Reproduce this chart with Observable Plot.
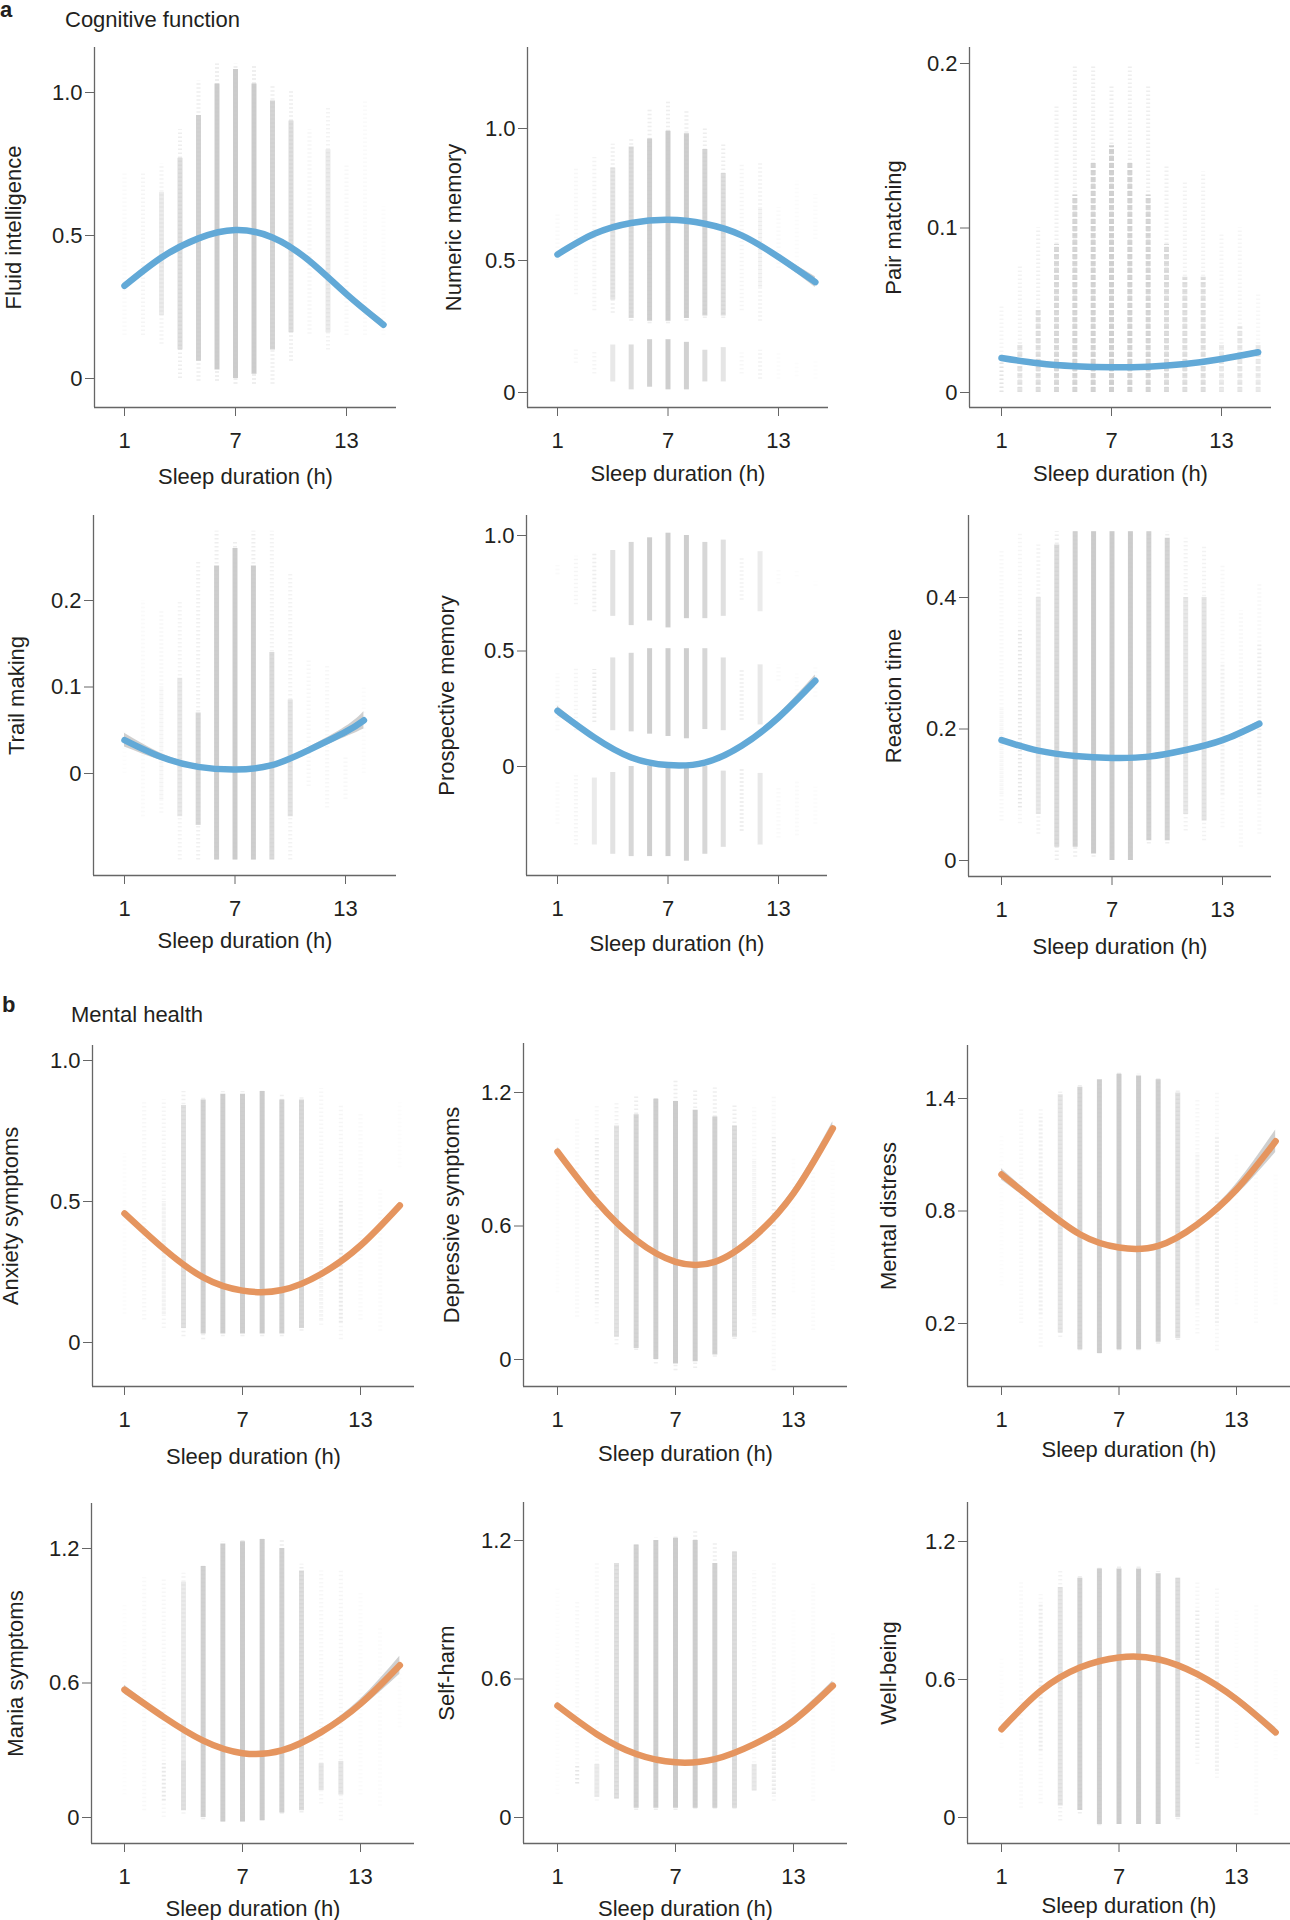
<!DOCTYPE html>
<html>
<head>
<meta charset="utf-8">
<script src="https://cdn.jsdelivr.net/npm/d3@7"></script>
<script src="https://cdn.jsdelivr.net/npm/@observablehq/plot@0.6"></script>
<style>
  html, body { margin: 0; padding: 0; background: #fff; overflow: hidden; }
  #page { position: relative; width: 1290px; height: 1920px; font-family: "Liberation Sans", Arial, Helvetica, sans-serif; color: #231f20; }
  .ttl { position: absolute; font-size: 22px; line-height: 22px; white-space: nowrap; }
  .tag { font-weight: bold; }
  #page svg { position: absolute; max-width: none; }
</style>
</head>
<body>
<div id="page">
  <div class="ttl tag" style="left:0px; top:-1px;">a</div>
  <div class="ttl" style="left:65px; top:9px;">Cognitive function</div>
  <div class="ttl tag" style="left:2px; top:994px;">b</div>
  <div class="ttl" style="left:71px; top:1004px;">Mental health</div>
</div>
<script>
// ---------- data ----------
const xTicks = [1, 7, 13];
const curveHours = [1, 3, 5, 7, 9, 11, 13, 15];
const trailHours = [1, 3, 5, 7, 9, 11, 13, 14];

const yLabels = ["Fluid intelligence", "Numeric memory", "Pair matching", "Trail making", "Prospective memory", "Reaction time",
                 "Anxiety symptoms", "Depressive symptoms", "Mental distress", "Mania symptoms", "Self-harm", "Well-being"];
const yTickSets = [[0, 0.5, 1.0], [0, 0.5, 1.0], [0, 0.1, 0.2], [0, 0.1, 0.2], [0, 0.5, 1.0], [0, 0.2, 0.4],
                   [0, 0.5, 1.0], [0, 0.6, 1.2], [0.2, 0.8, 1.4], [0, 0.6, 1.2], [0, 0.6, 1.2], [0, 0.6, 1.2]];

// fitted curves (value at curveHours) and CI half-widths
const fluidCurve = [0.324, 0.423, 0.490, 0.519, 0.493, 0.411, 0.295, 0.188];
const numericCurve = [0.523, 0.601, 0.642, 0.654, 0.639, 0.595, 0.513, 0.418];
const pairCurve = [0.0210, 0.0178, 0.0160, 0.0153, 0.0157, 0.0173, 0.0204, 0.0245];
const trailCurve = [0.0385, 0.0190, 0.0077, 0.0046, 0.0096, 0.0270, 0.0480, 0.0615];
const prospectiveCurve = [0.241, 0.126, 0.039, 0.006, 0.017, 0.090, 0.212, 0.371];
const reactionCurve = [0.183, 0.167, 0.159, 0.156, 0.158, 0.168, 0.183, 0.208];
const anxietyCurve = [0.458, 0.332, 0.231, 0.184, 0.186, 0.243, 0.344, 0.486];
const depressiveCurve = [0.934, 0.709, 0.537, 0.439, 0.439, 0.552, 0.747, 1.039];
const distressCurve = [0.995, 0.827, 0.676, 0.605, 0.614, 0.729, 0.915, 1.172];
const maniaCurve = [0.570, 0.448, 0.343, 0.287, 0.299, 0.381, 0.507, 0.679];
const selfharmCurve = [0.484, 0.361, 0.275, 0.239, 0.253, 0.318, 0.419, 0.571];
const wellbeingCurve = [0.384, 0.551, 0.652, 0.696, 0.688, 0.623, 0.514, 0.370];

const fluidCI = [0.010, 0.005, 0.003, 0.003, 0.003, 0.005, 0.010, 0.015];
const numericCI = [0.008, 0.004, 0.003, 0.002, 0.003, 0.005, 0.010, 0.020];
const pairCI = [0.001, 0.0005, 0.0003, 0.0003, 0.0003, 0.0005, 0.001, 0.0015];
const trailCI = [0.008, 0.004, 0.002, 0.002, 0.002, 0.003, 0.006, 0.010];
const prospectiveCI = [0.020, 0.010, 0.005, 0.004, 0.005, 0.008, 0.015, 0.025];
const reactionCI = [0.003, 0.002, 0.001, 0.001, 0.001, 0.002, 0.003, 0.004];
const anxietyCI = [0.008, 0.004, 0.002, 0.002, 0.002, 0.004, 0.008, 0.012];
const depressiveCI = [0.020, 0.010, 0.005, 0.004, 0.005, 0.010, 0.020, 0.030];
const distressCI = [0.030, 0.015, 0.008, 0.006, 0.008, 0.012, 0.030, 0.060];
const maniaCI = [0.020, 0.010, 0.005, 0.004, 0.005, 0.010, 0.020, 0.040];
const selfharmCI = [0.015, 0.008, 0.004, 0.003, 0.004, 0.008, 0.015, 0.020];
const wellbeingCI = [0.015, 0.008, 0.004, 0.003, 0.004, 0.008, 0.015, 0.020];

// scatter columns: [hour, low, high, density]
const fluidCols = [
  [1,.15,.72,.08],[2,.15,.72,.15],[3,.12,.75,.18],[3,.22,.65,.35],[4,0,.87,.25],[4,.1,.77,.6],
  [5,-.01,1.04,.25],[5,.06,.92,.8],[6,-.01,1.1,.3],[6,.03,1.03,.9],[7,-.02,1.1,.3],[7,0,1.08,.9],
  [8,-.02,1.09,.3],[8,.015,1.03,.9],[9,-.02,1.02,.25],[9,.1,.97,.75],[10,.06,1.01,.25],[10,.16,.9,.6],
  [11,.155,.87,.15],[12,.1,.95,.18],[12,.16,.8,.35],[13,.15,.75,.1],[14,.15,.97,.08],[15,.15,.6,.06]
];
const numericCols = [
  [1,.5,.68,.08],[2,.37,.85,.12],[3,.31,.89,.18],[4,.30,.94,.25],[4,.35,.85,.45],[5,.27,.96,.25],[5,.28,.93,.65],
  [6,.26,1.07,.25],[6,.27,.96,.85],[7,.26,1.1,.25],[7,.27,.99,.9],[8,.27,1.07,.25],[8,.28,.98,.85],
  [9,.28,1.0,.25],[9,.29,.92,.75],[10,.28,.94,.25],[10,.29,.83,.6],[11,.31,.87,.15],[12,.27,.87,.2],[12,.4,.7,.3],
  [13,.47,.7,.08],[14,.45,.8,.06],[15,.58,.75,.06],
  [2,.11,.17,.1],[3,.07,.16,.15],[4,.04,.18,.4],[5,.01,.18,.6],[6,.02,.2,.8],[7,.01,.2,.85],[8,.01,.19,.8],
  [9,.04,.16,.6],[10,.04,.17,.45],[11,.07,.15,.12],[12,.05,.16,.2],[13,.05,.15,.06],[14,.06,.12,.05],[15,.05,.12,.05]
];
const pairCols = [
  [1,0,.052,.15],[1,0,.02,.3],[2,0,.077,.2],[2,0,.03,.45],[3,0,.10,.22],[3,0,.05,.55],[4,0,.174,.22],[4,0,.09,.65],
  [5,0,.199,.25],[5,0,.12,.7],[6,0,.199,.25],[6,0,.14,.75],[7,0,.187,.25],[7,0,.15,.8],[8,0,.199,.25],[8,0,.14,.75],
  [9,0,.187,.25],[9,0,.12,.7],[10,0,.138,.22],[10,0,.09,.6],[11,0,.128,.2],[11,0,.07,.55],[12,0,.134,.2],[12,0,.07,.55],
  [13,0,.097,.15],[13,0,.03,.35],[14,0,.10,.15],[14,0,.04,.4],[15,0,.06,.12],[15,0,.03,.35]
];
const trailCols = [
  [1,0,.05,.05],[2,-.05,.2,.08],[3,-.046,.19,.12],[3,-.03,.1,.2],[4,-.1,.2,.18],[4,-.05,.11,.4],
  [5,-.1,.246,.22],[5,-.06,.07,.7],[6,-.1,.28,.25],[6,-.1,.24,.85],[7,-.1,.27,.25],[7,-.1,.26,.9],
  [8,-.1,.28,.25],[8,-.1,.24,.85],[9,-.1,.28,.2],[9,-.1,.14,.65],[10,-.1,.23,.2],[10,-.05,.085,.5],
  [11,-.015,.13,.12],[12,-.04,.125,.12],[13,-.03,.02,.1],[14,0,.1,.06]
];
const prospectiveCols = [
  [1,.83,.87,.08],[2,.70,.91,.15],[3,.67,.93,.25],[4,.65,.935,.5],[5,.61,.97,.7],[6,.63,.99,.85],[7,.60,1.01,.85],
  [8,.64,1.0,.85],[9,.64,.97,.7],[10,.65,.98,.55],[11,.72,.91,.2],[12,.67,.93,.35],[13,.79,.85,.06],[14,.82,.85,.05],[15,.78,.8,.05],
  [1,.155,.40,.1],[2,.155,.43,.15],[3,.19,.42,.3],[4,.155,.47,.5],[5,.15,.49,.7],[6,.14,.51,.85],[7,.13,.51,.85],
  [8,.12,.51,.85],[9,.16,.51,.7],[10,.155,.47,.55],[11,.2,.42,.25],[12,.18,.44,.4],[13,.37,.44,.08],[14,.31,.4,.06],[15,.30,.43,.06],
  [1,-.25,-.06,.08],[2,-.34,-.04,.15],[3,-.34,-.05,.35],[4,-.38,-.026,.5],[5,-.39,0,.7],[6,-.39,0,.85],[7,-.39,0,.85],
  [8,-.41,0,.85],[9,-.38,0,.7],[10,-.35,-.02,.55],[11,-.28,-.01,.3],[12,-.34,-.03,.4],[13,-.31,-.09,.08],[14,-.3,-.06,.08],[15,-.25,-.09,.06]
];
const reactionCols = [
  [1,.06,.47,.1],[1,.1,.23,.15],[2,.056,.5,.15],[2,.08,.35,.25],[3,.04,.48,.2],[3,.07,.4,.4],[4,0,.5,.25],[4,.02,.48,.65],
  [5,.005,.5,.25],[5,.02,.5,.8],[6,.005,.5,.25],[6,.01,.5,.9],[7,0,.5,.25],[7,0,.5,.9],[8,0,.5,.25],[8,0,.5,.9],
  [9,.025,.5,.25],[9,.03,.5,.8],[10,.025,.5,.25],[10,.03,.49,.75],[11,.045,.49,.2],[11,.07,.4,.4],[12,.03,.48,.2],[12,.06,.4,.45],
  [13,.05,.45,.12],[13,.1,.3,.2],[14,.02,.38,.12],[15,.04,.42,.12],[15,.1,.33,.2]
];
const anxietyCols = [
  [1,.1,.67,.06],[2,.08,.85,.12],[3,.05,.86,.15],[3,.1,.5,.25],[4,.02,.89,.22],[4,.05,.84,.55],
  [5,.01,.87,.22],[5,.03,.86,.8],[6,.02,.89,.22],[6,.03,.88,.85],[7,.02,.89,.22],[7,.03,.88,.85],[8,.02,.9,.22],[8,.03,.89,.9],
  [9,.02,.88,.22],[9,.03,.86,.8],[10,.04,.87,.22],[10,.05,.86,.7],[11,.06,.9,.12],[11,.08,.4,.2],[12,.01,.84,.15],[12,.07,.5,.3],
  [13,.08,.81,.08],[14,.04,.54,.08],[15,.62,.85,.05]
];
const depressiveCols = [
  [1,.3,1.0,.05],[2,.19,1.08,.1],[3,.16,1.14,.12],[3,.25,1.0,.2],[4,.065,1.15,.2],[4,.1,1.05,.5],
  [5,.04,1.18,.25],[5,.05,1.1,.75],[6,-.02,1.18,.25],[6,0,1.17,.85],[7,-.05,1.26,.25],[7,-.02,1.16,.9],
  [8,-.04,1.21,.25],[8,-.01,1.12,.85],[9,.01,1.22,.25],[9,.02,1.09,.8],[10,.09,1.15,.25],[10,.1,1.05,.6],
  [11,.12,1.13,.12],[11,.2,.9,.2],[12,-.05,1.18,.12],[12,.2,1.0,.2],[13,.3,.9,.05],[14,.13,.84,.08],[15,.4,.9,.05]
];
const distressCols = [
  [1,.4,1.2,.05],[2,.2,1.35,.1],[3,.073,1.35,.15],[3,.25,1.3,.2],[4,.126,1.44,.2],[4,.15,1.42,.45],
  [5,.055,1.47,.25],[5,.06,1.46,.75],[6,.038,1.51,.25],[6,.04,1.5,.85],[7,.055,1.535,.25],[7,.06,1.53,.9],
  [8,.055,1.53,.25],[8,.06,1.52,.9],[9,.09,1.51,.25],[9,.1,1.5,.85],[10,.11,1.44,.25],[10,.12,1.43,.55],
  [11,.144,1.4,.12],[11,.3,1.1,.2],[12,.055,1.44,.12],[12,.2,1.2,.2],[13,.3,1.1,.05],[14,.2,1.08,.08],[15,.3,1.0,.05]
];
const maniaCols = [
  [1,.1,.95,.05],[2,.03,1.07,.1],[3,0,1.06,.12],[3,.075,.24,.3],[4,.015,1.09,.18],[4,.03,.25,.55],[4,.25,1.05,.35],
  [5,-.01,1.13,.25],[5,0,1.12,.8],[6,-.02,1.23,.25],[6,-.02,1.22,.85],[7,-.02,1.24,.25],[7,-.02,1.23,.9],
  [8,-.015,1.25,.25],[8,-.015,1.24,.9],[9,.015,1.24,.25],[9,.02,1.2,.8],[10,.02,1.13,.25],[10,.03,1.1,.6],
  [11,.06,1.1,.12],[11,.12,.24,.45],[12,-.015,1.1,.15],[12,.1,.25,.45],[13,.1,1.0,.06],[14,.05,.85,.06],[15,.4,.7,.05]
];
const selfharmCols = [
  [1,.1,1.0,.05],[2,.145,.94,.1],[2,.145,.23,.3],[3,.07,1.1,.12],[3,.087,.23,.35],[4,.08,1.1,.25],[4,.08,1.1,.55],
  [5,.03,1.19,.25],[5,.04,1.18,.8],[6,.03,1.21,.25],[6,.04,1.2,.85],[7,.03,1.22,.25],[7,.04,1.21,.9],
  [8,.036,1.24,.25],[8,.04,1.2,.85],[9,.036,1.19,.25],[9,.04,1.1,.8],[10,.036,1.16,.25],[10,.04,1.15,.6],
  [11,.115,1.07,.12],[11,.115,.23,.4],[12,.07,1.11,.15],[12,.1,.35,.3],[13,.3,.9,.05],[14,.07,1.01,.08],[15,.2,.8,.05]
];
const wellbeingCols = [
  [1,.3,.7,.05],[2,.04,1.03,.1],[3,.06,.97,.12],[3,.29,.93,.25],[4,-.015,1.07,.2],[4,.05,1.0,.45],
  [5,.015,1.05,.25],[5,.03,1.04,.8],[6,-.036,1.09,.25],[6,-.03,1.08,.85],[7,-.03,1.09,.25],[7,-.03,1.08,.9],
  [8,-.03,1.09,.25],[8,-.03,1.08,.9],[9,-.03,1.07,.25],[9,-.03,1.06,.85],[10,-.01,1.05,.25],[10,0,1.04,.6],
  [11,.23,1.03,.12],[11,.3,.9,.2],[12,.17,1.0,.12],[12,.2,.85,.2],[13,.3,.9,.05],[14,.01,.93,.08],[15,.25,.65,.05]
];

const colsList = [fluidCols, numericCols, pairCols, trailCols, prospectiveCols, reactionCols,
                  anxietyCols, depressiveCols, distressCols, maniaCols, selfharmCols, wellbeingCols];
const curveList = [fluidCurve, numericCurve, pairCurve, trailCurve, prospectiveCurve, reactionCurve,
                   anxietyCurve, depressiveCurve, distressCurve, maniaCurve, selfharmCurve, wellbeingCurve];
const ciList = [fluidCI, numericCI, pairCI, trailCI, prospectiveCI, reactionCI,
                anxietyCI, depressiveCI, distressCI, maniaCI, selfharmCI, wellbeingCI];

// ---------- layout (page pixels) ----------
const layout = [
  {L:94, T:47, R:396, B:407, x1:124, x13:346, ya:[0,378], yb:[1,92], yOff:89, xOff:76},
  {L:527, T:47, R:828, B:407, x1:557, x13:778, ya:[0,392], yb:[1,128], yOff:82, xOff:73},
  {L:969, T:47, R:1271, B:407, x1:1001, x13:1221, ya:[0,392], yb:[0.2,63], yOff:84, xOff:73},
  {L:93, T:515, R:396, B:875, x1:124, x13:345, ya:[0,773], yb:[0.2,600], yOff:85, xOff:72},
  {L:526, T:515, R:827, B:875, x1:557, x13:778, ya:[0,766], yb:[1,535], yOff:88, xOff:75},
  {L:968, T:515, R:1271, B:876, x1:1001, x13:1222, ya:[0,860], yb:[0.4,597], yOff:83, xOff:77},
  {L:92, T:1045, R:414, B:1386, x1:124, x13:360, ya:[0,1342], yb:[1,1060], yOff:90, xOff:77},
  {L:523, T:1043, R:847, B:1386, x1:557, x13:793, ya:[0,1359], yb:[1.2,1092], yOff:80, xOff:74},
  {L:967, T:1045, R:1290, B:1386, x1:1001, x13:1236, ya:[0.2,1323], yb:[1.4,1098], yOff:87, xOff:70},
  {L:91, T:1503, R:414, B:1843, x1:124, x13:360, ya:[0,1817], yb:[1.2,1548], yOff:84, xOff:72},
  {L:523, T:1502, R:847, B:1843, x1:557, x13:793, ya:[0,1817], yb:[1.2,1540], yOff:85, xOff:72},
  {L:967, T:1502, R:1290, B:1843, x1:1001, x13:1236, ya:[0,1817], yb:[1.2,1541], yOff:87, xOff:69}
];

const BLUE = "#62a9d7", ORANGE = "#e5955f";
const FONT = "'Liberation Sans', Arial, Helvetica, sans-serif";
const page = document.getElementById("page");
const fmt = v => v === 0 ? "0" : v.toFixed(1);

layout.forEach((lay, i) => {
  const hrs = i === 3 ? trailHours : curveHours;
  const curve = hrs.map((h, j) => ({h, y: curveList[i][j], ci: ciList[i][j]}));
  const cols = colsList[i].map(([h, lo, hi, a]) => ({h, lo, hi, a})).sort((p, q) => p.a - q.a);
  const faint = cols.filter(d => d.a <= 0.3);
  const dense = cols.filter(d => d.a > 0.3);

  const xk = (lay.x13 - lay.x1) / 12;
  const xd = [1 + (lay.L - lay.x1) / xk, 1 + (lay.R - lay.x1) / xk];
  const [v0, p0] = lay.ya, [v1, p1] = lay.yb;
  const yk = (p0 - p1) / (v1 - v0);
  const yd = [v0 - (lay.B - p0) / yk, v0 + (p0 - lay.T) / yk];

  const mL = lay.yOff + 3, mB = lay.xOff + 3, mT = 8, mR = 6;
  const width = lay.R - lay.L + mL + mR, height = lay.B - lay.T + mT + mB;
  const color = i < 6 ? BLUE : ORANGE;

  const svg = Plot.plot({
    width, height, marginLeft: mL, marginRight: mR, marginTop: mT, marginBottom: mB,
    x: {domain: xd},
    y: {domain: yd},
    opacity: {type: "identity"},
    style: {fontFamily: FONT, fontSize: "22px", color: "#231f20", background: "transparent", overflow: "visible"},
    marks: [
      Plot.ruleX(faint, {x: "h", y1: "lo", y2: "hi", stroke: "#bcbcbc", strokeOpacity: "a", strokeWidth: 4, strokeDasharray: "1.5 2.5"}),
      Plot.ruleX(dense, {x: "h", y1: "lo", y2: "hi", stroke: "#c6c6c6", strokeOpacity: "a", strokeWidth: 5,
                         strokeDasharray: i === 2 ? "5 2" : null}),
      Plot.areaY(curve, {x: "h", y1: d => d.y - d.ci, y2: d => d.y + d.ci, fill: "#a8a8a8", fillOpacity: 0.55, curve: "natural"}),
      Plot.line(curve, {x: "h", y: "y", stroke: color, strokeWidth: 6.5, curve: "natural"}),
      Plot.ruleX([xd[0]], {stroke: "#666", strokeWidth: 1.3}),
      Plot.ruleY([yd[0]], {stroke: "#666", strokeWidth: 1.3}),
      Plot.axisY({ticks: yTickSets[i], tickFormat: fmt, tickSize: 9, tickPadding: 3, stroke: "#666", fill: "#231f20",
                  label: yLabels[i], labelAnchor: "center", labelOffset: lay.yOff, labelArrow: "none", fontSize: 22}),
      Plot.axisX({ticks: xTicks, tickFormat: d => String(d), tickSize: 9, tickPadding: 16, stroke: "#666", fill: "#231f20",
                  label: "Sleep duration (h)", labelAnchor: "center", labelOffset: lay.xOff, labelArrow: "none", fontSize: 22})
    ]
  });
  svg.style.left = (lay.L - mL) + "px";
  svg.style.top = (lay.T - mT) + "px";
  page.appendChild(svg);
});
</script>
</body>
</html>
